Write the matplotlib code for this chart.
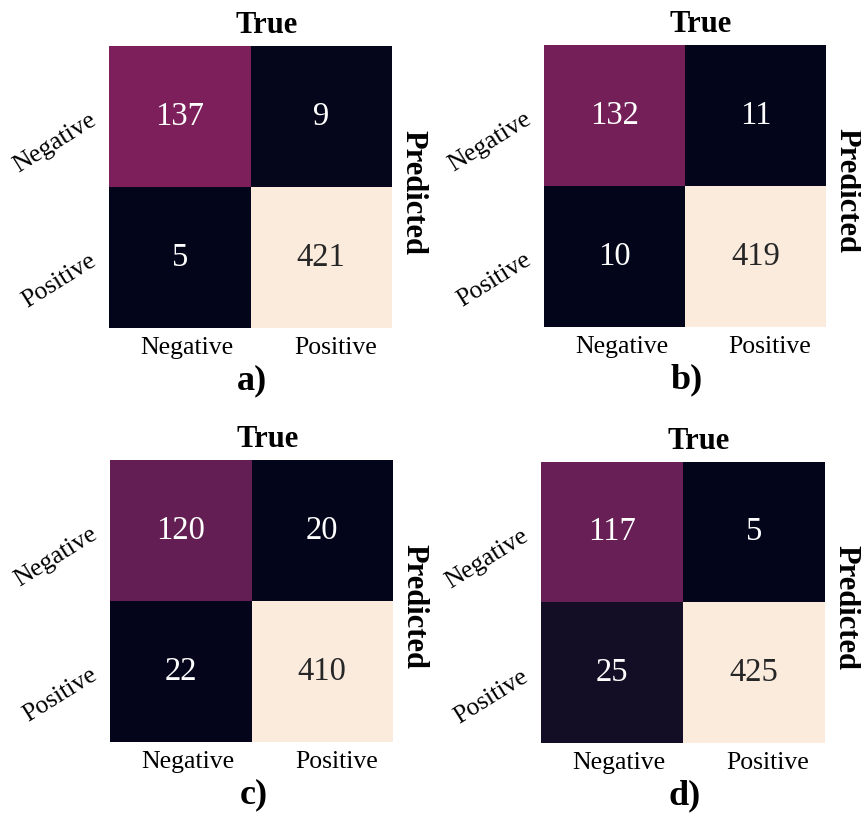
import matplotlib
matplotlib.use("Agg")
import matplotlib.pyplot as plt
import numpy as np
import seaborn as sns
from matplotlib.transforms import ScaledTranslation

plt.rcParams["font.family"] = ["Liberation Serif", "DejaVu Serif"]

# Confusion matrices (rows: predicted, columns: true)
class_labels = ["Negative", "Positive"]
panel_tags = ["a)", "b)", "c)", "d)"]
cm_a = [[137, 9], [5, 421]]
cm_b = [[132, 11], [10, 419]]
cm_c = [[120, 20], [22, 410]]
cm_d = [[117, 5], [25, 425]]
matrices = [cm_a, cm_b, cm_c, cm_d]

W, H, DPI = 861, 821, 100
fig = plt.figure(figsize=(W / DPI, H / DPI), dpi=DPI)

# heatmap boxes in pixels: left, top, width, height
boxes = [(109, 46, 283, 282), (544, 45, 282, 282),
         (110, 460, 283, 282), (541, 462, 284, 281)]


def px(dx, dy):
    """Offset in pixels (y up) as a display translation."""
    return ScaledTranslation(dx / DPI, dy / DPI, fig.dpi_scale_trans)


for cm, tag, (l, t, w, h) in zip(matrices, panel_tags, boxes):
    ax = fig.add_axes([l / W, 1 - (t + h) / H, w / W, h / H])
    sns.heatmap(np.array(cm), ax=ax, cmap="rocket", annot=True, fmt="d",
                cbar=False, annot_kws={"fontsize": 23.5},
                xticklabels=False, yticklabels=False)
    ax.set_xticks([])
    ax.set_yticks([])

    # column labels below the matrix
    for i, (name, dx) in enumerate(zip(class_labels, [7, 14])):
        ax.text(i + 0.5, 0, name, fontsize=18.5, ha="center", va="baseline",
                transform=ax.get_xaxis_transform() + px(dx, -26))

    # row labels on the left, slanted
    for i, name in enumerate(class_labels):
        ax.text(0, i + 0.5, name, fontsize=18.5, rotation=32,
                ha="right", va="center", rotation_mode="anchor",
                transform=ax.get_yaxis_transform() + px(-15, -2))

    ax.text(0.5, 1, "True", fontsize=22, fontweight="bold",
            ha="center", va="baseline", transform=ax.transAxes + px(16, 13))
    ax.text(1, 0.5, "Predicted", fontsize=22, fontweight="bold",
            rotation=-90, ha="center", va="center",
            transform=ax.transAxes + px(21, -5))
    ax.text(0.5, 0, tag, fontsize=26, fontweight="bold",
            ha="center", va="baseline", transform=ax.transAxes + px(2, -61))

fig.savefig("out.png", dpi=DPI, facecolor="white")
